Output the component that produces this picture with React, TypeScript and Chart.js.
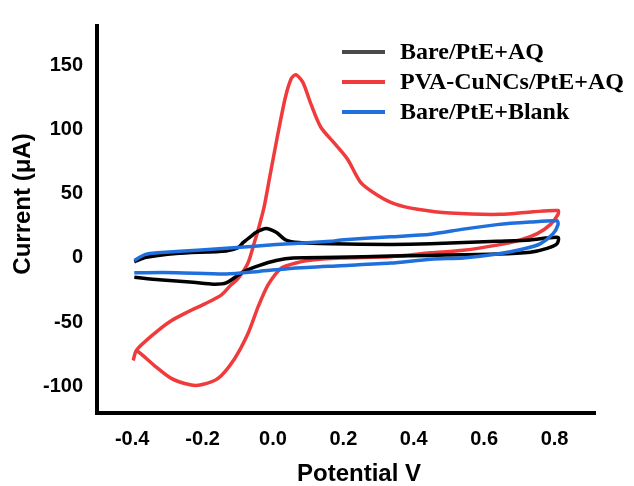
import React, { useEffect, useRef } from "react";
import { Chart, registerables } from "chart.js";

Chart.register(...registerables);

// Bare/PtE+AQ (black)
const blackX = [-0.394, -0.36, -0.275, -0.133, -0.099, -0.085, -0.062, -0.048, -0.02, 0.009, 0.037, 0.074, 0.164, 0.334, 0.448, 0.637, 0.731, 0.81,
  0.807, 0.779, 0.731, 0.637, 0.448, 0.334, 0.18, 0.057, 0.009, -0.04, -0.085, -0.133, -0.17, -0.227, -0.323, -0.394];
const blackY = [-3, 0.5, 3.5, 5.5, 8, 12, 17, 20, 23, 20, 14, 12, 11, 10.5, 11, 13, 14, 16,
  11, 7.5, 4.5, 3, 2, 1.5, 0.5, 0, -2, -6, -11, -19.5, -20.5, -19, -17, -15];

// PVA-CuNCs/PtE+AQ (red)
const redX = [-0.397, -0.388, -0.337, -0.289, -0.241, -0.195, -0.147, -0.119, -0.099, -0.071, -0.054, -0.04, -0.025, -0.01, 0.012, 0.035, 0.052, 0.065, 0.085, 0.108, 0.136, 0.173, 0.212, 0.249, 0.297, 0.348, 0.411, 0.504, 0.646, 0.739, 0.81,
  0.81, 0.788, 0.751, 0.703, 0.637, 0.541, 0.448, 0.334, 0.193, 0.099, 0.051, 0.023, -0.014, -0.042, -0.071, -0.11, -0.156, -0.204, -0.235, -0.289, -0.337, -0.374, -0.388];
const redY = [-80, -72, -59, -49, -42, -36, -29, -21, -16, -4, 11, 24, 40, 62, 94, 125, 140, 143, 137, 120, 102, 90, 77, 59, 49, 42, 38, 35, 34, 36, 37,
  34, 26, 19, 14, 10, 6, 4, 1, 0, -2, -5, -8, -21, -38, -59, -79, -94, -99, -99, -94, -84, -75, -72];

// Bare/PtE+Blank (blue)
const blueX = [-0.394, -0.36, -0.275, -0.133, 0.009, 0.164, 0.193, 0.334, 0.448, 0.541, 0.637, 0.731, 0.807,
  0.81, 0.796, 0.759, 0.711, 0.637, 0.541, 0.448, 0.334, 0.193, 0.057, -0.04, -0.133, -0.275, -0.394];
const blueY = [-2, 3, 5, 7.5, 10.5, 13, 14, 16.5, 18.5, 22.5, 26, 28, 29,
  26, 19, 11, 7, 3, 0, -1, -4, -6, -8, -10.5, -12.5, -11.5, -11.5];

const xTicks = [-0.4, -0.2, 0, 0.2, 0.4, 0.6, 0.8];
const yTicks = [-100, -50, 0, 50, 100, 150];

const xTitle = "Potential V";
const yTitle = "Current (μA)";
const seriesLabels = ["Bare/PtE+AQ", "PVA-CuNCs/PtE+AQ", "Bare/PtE+Blank"];
const seriesColors = ["#000000", "#ef3b3b", "#1f6fdc"];
const legendColors = ["#4a4a4a", "#ef3b3b", "#1f6fdc"];

const toPoints = (xs: number[], ys: number[]) => xs.map((x, i) => ({ x, y: ys[i] }));

const sans = "'Liberation Sans', Arial, sans-serif";

const overlayPlugin = {
  id: "overlay",
  afterDraw(chart: any) {
    const ctx = chart.ctx;
    ctx.save();
    // legend
    const rows = [52, 82, 112];
    ctx.font = "bold 24px 'Liberation Serif', 'Times New Roman', serif";
    ctx.textBaseline = "middle";
    ctx.textAlign = "left";
    seriesLabels.forEach((label, i) => {
      const y = rows[i];
      ctx.strokeStyle = legendColors[i];
      ctx.lineWidth = 4;
      ctx.beginPath();
      ctx.moveTo(342, y);
      ctx.lineTo(385, y);
      ctx.stroke();
      ctx.fillStyle = "#000";
      ctx.fillText(label, 400, y + 1);
    });
    // axis titles
    ctx.font = `bold 24px ${sans}`;
    ctx.fillStyle = "#000";
    ctx.textAlign = "center";
    ctx.textBaseline = "alphabetic";
    ctx.fillText(xTitle, 359, 481);
    ctx.translate(30, 204);
    ctx.rotate(-Math.PI / 2);
    ctx.fillText(yTitle, 0, 0);
    ctx.restore();
  },
};

export default function App() {
  const ref = useRef<HTMLCanvasElement | null>(null);
  useEffect(() => {
    document.body.style.margin = "0";
    if (!ref.current) return;
    const tickFont = { family: sans, size: 20, weight: "bold" as const };
    const mk = (label: string, xs: number[], ys: number[], color: string, order: number) => ({
      label,
      data: toPoints(xs, ys),
      showLine: true,
      borderColor: color,
      backgroundColor: color,
      borderWidth: 3.5,
      pointRadius: 0,
      tension: 0.25,
      order,
    });
    const chart = new Chart(ref.current, {
      type: "scatter",
      data: {
        datasets: [
          mk(seriesLabels[0], blackX, blackY, seriesColors[0], 1),
          mk(seriesLabels[1], redX, redY, seriesColors[1], 2),
          mk(seriesLabels[2], blueX, blueY, seriesColors[2], 0),
        ],
      },
      options: {
        animation: false,
        responsive: false,
        devicePixelRatio: 1,
        layout: { padding: { top: 12, right: 39, left: 0, bottom: 0 } },
        plugins: { legend: { display: false }, tooltip: { enabled: false } },
        scales: {
          x: {
            type: "linear",
            min: -0.5,
            max: 0.915,
            afterBuildTicks: (scale: any) => {
              scale.ticks = xTicks.map((v) => ({ value: v }));
            },
            afterFit: (scale: any) => {
              scale.height = 73;
            },
            grid: { display: false, drawTicks: false },
            border: { display: true, color: "#000", width: 4 },
            ticks: {
              color: "#000",
              font: tickFont,
              padding: 14,
              maxRotation: 0,
              callback: (v: any) => Number(v).toFixed(1),
            },
            title: { display: false, text: xTitle },
          },
          y: {
            type: "linear",
            min: -121,
            max: 181,
            afterBuildTicks: (scale: any) => {
              scale.ticks = yTicks.map((v) => ({ value: v }));
            },
            afterFit: (scale: any) => {
              scale.width = 97;
            },
            grid: { display: false, drawTicks: false },
            border: { display: true, color: "#000", width: 4 },
            ticks: {
              color: "#000",
              font: tickFont,
              padding: 14,
              callback: (v: any) => String(v),
            },
            title: { display: false, text: yTitle },
          },
        },
      },
      plugins: [overlayPlugin],
    });
    return () => chart.destroy();
  }, []);
  return (
    <div style={{ width: 634, height: 486 }}>
      <canvas ref={ref} width={634} height={486} style={{ display: "block", width: 634, height: 486 }} />
    </div>
  );
}
